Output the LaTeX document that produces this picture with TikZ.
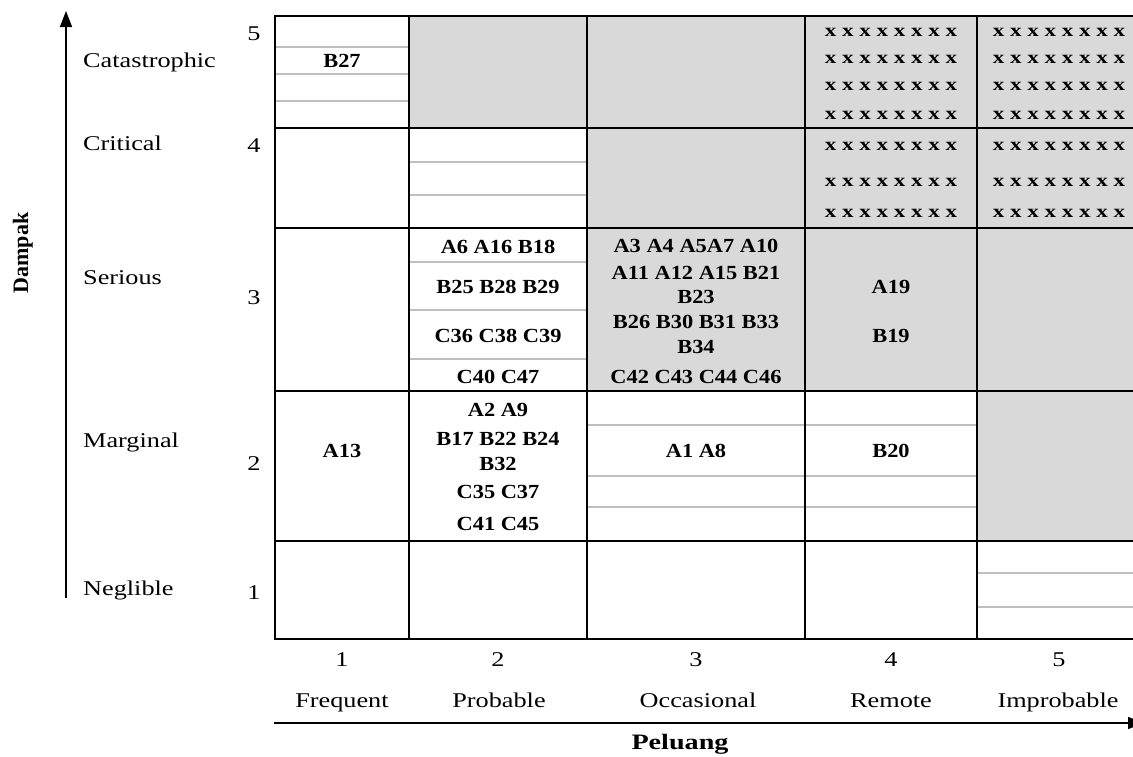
\documentclass[tikz,border=0pt]{standalone}
\usepackage{fontspec}
\setmainfont{Liberation Serif}
\newfontfamily\labfont{Liberation Serif}[FakeStretch=1.25]
\newfontfamily\cellfont{Liberation Serif}[FakeStretch=1.12]
\newfontfamily\xfont{Liberation Serif}[FakeStretch=1.28]
\usetikzlibrary{arrows.meta}
\definecolor{cellgray}{HTML}{D9D9D9}
\definecolor{subgray}{HTML}{BFBFBF}
\begin{document}
\begin{tikzpicture}[x=1pt,y=-1pt,
  lab/.style={font=\labfont\fontsize{21}{24}\selectfont, inner sep=0pt, anchor=base},
  rowlab/.style={lab, anchor=base west},
  cell/.style={font=\cellfont\bfseries\fontsize{20}{22}\selectfont, inner sep=0pt, anchor=base},
  xrow/.style={font=\xfont\bfseries\fontsize{18}{20}\selectfont, inner sep=0pt, anchor=base},
  axtitle/.style={font=\xfont\bfseries\fontsize{22}{24}\selectfont, inner sep=0pt, anchor=base},
  grid/.style={line width=1.6pt, black},
  subline/.style={line width=1.3pt, subgray},
  axis/.style={line width=1.5pt, -{Triangle[length=16pt,width=12pt]}}]
\clip (0,0) rectangle (1133,756);
\fill[white] (0,0) rectangle (1133,756);
% gray cells
\fill[cellgray] (409,16) rectangle (1141,128);
\fill[cellgray] (587,128) rectangle (1141,391);
\fill[cellgray] (977,391) rectangle (1141,541);
% sub lines
\foreach \yy in {47,74,101} \draw[subline] (275,\yy) -- (409,\yy);
\foreach \yy in {162,195} \draw[subline] (409,\yy) -- (587,\yy);
\foreach \yy in {262,310,359} \draw[subline] (409,\yy) -- (587,\yy);
\foreach \yy in {425,476,507} \draw[subline] (587,\yy) -- (977,\yy);
\foreach \yy in {573,607} \draw[subline] (977,\yy) -- (1141,\yy);
% grid
\foreach \xx in {275,409,587,805,977,1141} \draw[grid] (\xx,16) -- (\xx,639);
\foreach \yy in {16,128,228,391,541,639} \draw[grid] (274.2,\yy) -- (1141,\yy);
% x marks
\foreach \cx/\nm in {891/a,1059/b}{
  \foreach \yy/\k in {36/1,63/2,90/3,119/4,150/5,186/6,217/7}
    \node[xrow] (x\nm\k) at (\cx,\yy) {x x x x x x x x};
}
% cell texts
\node[cell] (b27) at (342,67) {B27};
\node[cell] (c23a) at (498,253) {A6 A16 B18};
\node[cell] (c23b) at (498,293) {B25 B28 B29};
\node[cell] (c23c) at (498,342) {C36 C38 C39};
\node[cell] (c23d) at (498,383) {C40 C47};
\node[cell] (c33a) at (696,252) {A3 A4 A5A7 A10};
\node[cell] (c33b) at (696,279) {A11 A12 A15 B21};
\node[cell] (c33c) at (696,303) {B23};
\node[cell] (c33d) at (696,328) {B26 B30 B31 B33};
\node[cell] (c33e) at (696,353) {B34};
\node[cell] (c33f) at (696,383) {C42 C43 C44 C46};
\node[cell] (a19) at (891,293) {A19};
\node[cell] (b19) at (891,342) {B19};
\node[cell] (a13) at (342,457) {A13};
\node[cell] (c22a) at (498,416) {A2 A9};
\node[cell] (c22b) at (498,445) {B17 B22 B24};
\node[cell] (c22c) at (498,470) {B32};
\node[cell] (c22d) at (498,498) {C35 C37};
\node[cell] (c22e) at (498,530) {C41 C45};
\node[cell] (a1a8) at (696,457) {A1 A8};
\node[cell] (b20) at (891,457) {B20};
% left labels
\node[rowlab] (cat) at (83,67) {Catastrophic};
\node[rowlab] (cri) at (83,150) {Critical};
\node[rowlab] (ser) at (83,284) {Serious};
\node[rowlab] (mar) at (83,447) {Marginal};
\node[rowlab] (neg) at (83,595) {Neglible};
\node[lab] (r5) at (254,40) {5};
\node[lab] (r4) at (254,152) {4};
\node[lab] (r3) at (254,304) {3};
\node[lab] (r2) at (254,470) {2};
\node[lab] (r1) at (254,599) {1};
% bottom labels
\node[lab] (n1) at (342,666) {1};
\node[lab] (n2) at (498,666) {2};
\node[lab] (n3) at (696,666) {3};
\node[lab] (n4) at (891,666) {4};
\node[lab] (n5) at (1059,666) {5};
\node[lab] (l1) at (342,707) {Frequent};
\node[lab] (l2) at (499,707) {Probable};
\node[lab] (l3) at (698,707) {Occasional};
\node[lab] (l4) at (891,707) {Remote};
\node[lab] (l5) at (1058,707) {Improbable};
% axes
\coordinate (vbot) at (66,598);
\coordinate (vtop) at (66,11);
\draw[axis] (vbot) -- (vtop);
\coordinate (hleft) at (274,723);
\coordinate (hright) at (1144,723);
\draw[axis] (hleft) -- (hright);
\node[axtitle] (pel) at (680,749) {Peluang};
\node[font=\bfseries\fontsize{22}{24}\selectfont, inner sep=0pt, rotate=90, anchor=base] (dam) at (28,253) {Dampak};
\end{tikzpicture}
\end{document}
